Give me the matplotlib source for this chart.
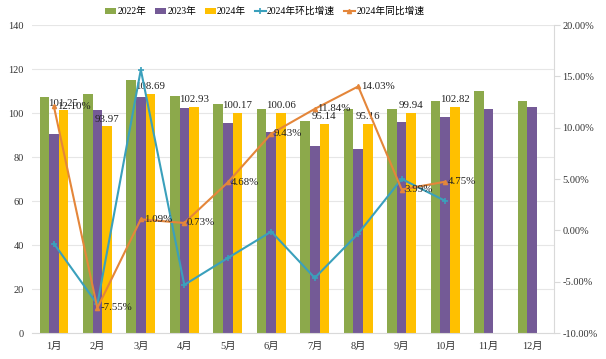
import matplotlib.pyplot as plt
import numpy as np
from matplotlib.ticker import FuncFormatter

plt.rcParams['font.family'] = ['Liberation Serif', 'Noto Sans CJK SC', 'DejaVu Sans']
plt.rcParams['font.size'] = 7

months = ["1月", "2月", "3月", "4月", "5月", "6月",
          "7月", "8月", "9月", "10月", "11月", "12月"]

# monthly values (index)
v2022 = [107.3, 108.5, 114.9, 107.7, 104.2, 102.1, 96.5, 102.1, 102.1, 105.3, 110.0, 105.5]
v2023 = [90.3, 101.6, 107.5, 102.2, 95.7, 91.4, 85.1, 83.5, 96.1, 98.2, 101.8, 102.7]
v2024 = [101.25, 93.97, 108.69, 102.93, 100.17, 100.06, 95.14, 95.16, 99.94, 102.82]

# growth rates of 2024, in percent
mom = [-1.27, -7.19, 15.66, -5.30, -2.68, -0.11, -4.62, -0.30, 5.02, 2.88]
yoy = [12.10, -7.55, 1.09, 0.73, 4.68, 9.43, 11.84, 14.03, 3.99, 4.75]

c_green = "#8CA94B"
c_purple = "#745A96"
c_yellow = "#FFC000"
c_blue = "#3AA0BC"
c_orange = "#E4863A"

fig = plt.figure(figsize=(6.06, 3.59), dpi=100)
ax = fig.add_axes([0.053, 0.072, 0.861, 0.858])

x = np.arange(len(months))
w = 0.22
ax.bar(x - w, v2022, w, color=c_green, label="2022年", zorder=2)
ax.bar(x, v2023, w, color=c_purple, label="2023年", zorder=2)
x24 = x[:len(v2024)]
ax.bar(x24 + w, v2024, w, color=c_yellow, label="2024年", zorder=2)

for xi, v in zip(x24, v2024):
    ax.annotate(f"{v:.2f}", (xi + w, v), xytext=(0, 2), textcoords="offset points",
                ha="center", va="bottom", fontsize=7.8, color="#222222", zorder=5)

ax.set_xlim(-0.5, len(months) - 0.5)
ax.set_ylim(0, 140)
ax.set_yticks(range(0, 141, 20))
ax.set_xticks(x)
ax.set_xticklabels(months)
ax.yaxis.grid(True, color="#E6E6E6", linewidth=0.8, zorder=0)
ax.set_axisbelow(True)
for s in ["top", "left", "right"]:
    ax.spines[s].set_visible(False)
ax.spines["bottom"].set_color("#D9D9D9")
ax.tick_params(axis="both", length=0, colors="#333333", pad=6, labelsize=7.5)

ax2 = ax.twinx()
ax2.plot(x24, mom, color=c_blue, linewidth=1.5, marker="+", markersize=5,
         markeredgewidth=1.2, label="2024年环比增速", zorder=4)
ax2.plot(x24, yoy, color=c_orange, linewidth=1.5, marker="^", markersize=3,
         label="2024年同比增速", zorder=4)
for xi, v in zip(x24, yoy):
    ax2.annotate(f"{v:.2f}%", (xi, v), xytext=(2, 0), textcoords="offset points",
                 ha="left", va="center", fontsize=7.8, color="#222222", zorder=6)

ax2.set_ylim(-10, 20)
ax2.set_yticks(range(-10, 21, 5))
ax2.yaxis.set_major_formatter(FuncFormatter(lambda v, p: f"{v:.2f}%"))
for s in ["top", "left", "bottom"]:
    ax2.spines[s].set_visible(False)
ax2.spines["right"].set_color("#D9D9D9")
ax2.tick_params(axis="y", length=4, color="#D9D9D9", colors="#333333", pad=2,
                labelsize=7.5)

h1, l1 = ax.get_legend_handles_labels()
h2, l2 = ax2.get_legend_handles_labels()
fig.legend(h1 + h2, l1 + l2, loc="center", bbox_to_anchor=(0.437, 0.968), ncol=5,
           frameon=False, fontsize=7, handlelength=1.1, handleheight=0.6,
           handletextpad=0.15, columnspacing=0.9)

fig.savefig("out.png", dpi=100)
